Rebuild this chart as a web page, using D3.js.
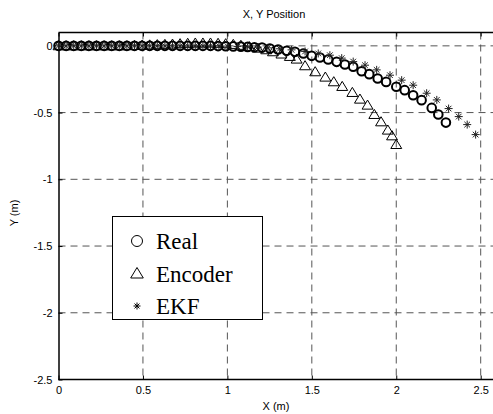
<!DOCTYPE html>
<html>
<head>
<meta charset="utf-8">
<script src="https://cdn.jsdelivr.net/npm/d3@7"></script>
<style>
  body { margin: 0; background: #fff; }
  svg { display: block; }
</style>
</head>
<body>
<svg id="chart" width="493" height="414"></svg>
<script>
// Real trajectory (circles)
const realX = [0, 0.045, 0.09, 0.135, 0.18, 0.225, 0.27, 0.315, 0.36, 0.405, 0.45, 0.495, 0.54, 0.585, 0.63,
    0.675, 0.72, 0.765, 0.81, 0.855, 0.9, 0.945, 0.99, 1.035, 1.08, 1.12, 1.16, 1.205, 1.252, 1.30, 1.351,
    1.40, 1.45, 1.499, 1.548, 1.597, 1.647, 1.696, 1.745, 1.795, 1.84, 1.89, 1.94, 2.0, 2.05, 2.10, 2.15,
    2.21, 2.249, 2.294]
const realY = [0, 0, 0, 0, 0, 0, 0, 0, 0, 0, 0, 0, 0, 0, 0,
    0, 0, 0, 0, 0, 0, -0.002, -0.003, -0.004, -0.006, -0.008, -0.01, -0.013, -0.02, -0.027, -0.037,
    -0.045, -0.057, -0.075, -0.087, -0.102, -0.12, -0.14, -0.157, -0.19, -0.212, -0.245, -0.27, -0.307, -0.332,
    -0.37, -0.407, -0.465, -0.514, -0.575]

// Encoder (triangles)
const encX = [0, 0.045, 0.09, 0.135, 0.18, 0.225, 0.27, 0.315, 0.36, 0.405, 0.45, 0.495, 0.54, 0.585, 0.63,
    0.675, 0.72, 0.765, 0.81, 0.855, 0.9, 0.945, 0.99, 1.035, 1.08, 1.13, 1.18, 1.23, 1.27, 1.32, 1.37,
    1.41, 1.46, 1.52, 1.58, 1.63, 1.68, 1.74, 1.785, 1.83, 1.87, 1.91, 1.95, 1.975, 2.0]
const encY = [0, 0, 0, 0, 0, 0, 0, 0, 0, 0, 0.002, 0.004, 0.006, 0.008, 0.01,
    0.012, 0.015, 0.018, 0.02, 0.02, 0.02, 0.018, 0.015, 0.01, 0.003, -0.007, -0.018, -0.03, -0.045, -0.062, -0.08,
    -0.1, -0.15, -0.195, -0.235, -0.27, -0.305, -0.35, -0.4, -0.445, -0.515, -0.57, -0.632, -0.675, -0.74]

// EKF estimate (stars)
const ekfX = [0, 0.045, 0.09, 0.135, 0.18, 0.225, 0.27, 0.315, 0.36, 0.405, 0.45, 0.495, 0.54, 0.585, 0.63,
    0.675, 0.72, 0.765, 0.81, 0.855, 0.9, 0.95, 1.0, 1.06, 1.12, 1.18, 1.24, 1.31, 1.38, 1.46, 1.538,
    1.607, 1.677, 1.745, 1.815, 1.884, 1.963, 2.032, 2.10, 2.18, 2.24, 2.31, 2.37, 2.42, 2.47]
const ekfY = [0, 0, 0, 0, 0, 0, 0, 0, 0, 0, 0, 0, 0, 0, 0,
    0, 0, 0, 0, 0, 0, 0, -0.002, -0.004, -0.007, -0.01, -0.015, -0.022, -0.03, -0.042, -0.057,
    -0.07, -0.092, -0.118, -0.145, -0.18, -0.22, -0.257, -0.295, -0.355, -0.405, -0.47, -0.53, -0.59, -0.665]

const xTicks = [0, 0.5, 1, 1.5, 2, 2.5]
const yTicks = [0, -0.5, -1, -1.5, -2, -2.5]
const legendLabels = ["Real", "Encoder", "EKF"]

const sans = "'Liberation Sans', Arial, sans-serif"
const serif = "'Liberation Serif', 'Times New Roman', serif"
const fmt = d => String(d)

const svg = d3.select("#chart")

const plotLeft = 58.5, plotTop = 32.5, plotBottom = 379.5
const x = d3.scaleLinear().domain([0, 2.5]).range([plotLeft, 480.7])
const y = d3.scaleLinear().domain([-2.5, 0.1]).range([plotBottom, plotTop])
const plotRight = x(2.6)

// grid
const grid = svg.append("g")
    .attr("stroke", "#555")
    .attr("stroke-width", 1)
    .attr("stroke-dasharray", "7,5")
grid.selectAll(".gx").data(xTicks.slice(1)).join("line")
    .attr("class", "gx")
    .attr("x1", d => x(d)).attr("x2", d => x(d))
    .attr("y1", plotTop).attr("y2", plotBottom)
grid.selectAll(".gy").data(yTicks.slice(0, -1)).join("line")
    .attr("class", "gy")
    .attr("x1", plotLeft).attr("x2", plotRight)
    .attr("y1", d => y(d)).attr("y2", d => y(d))

// axes, ticks inside
const xAxis = d3.axisBottom(x).tickValues(xTicks).tickSizeInner(-4).tickSizeOuter(0)
    .tickPadding(7).tickFormat(fmt)
const yAxis = d3.axisLeft(y).tickValues(yTicks).tickSizeInner(-4).tickSizeOuter(0)
    .tickPadding(6).tickFormat(fmt)

const gx = svg.append("g").attr("transform", `translate(0,${plotBottom})`).call(xAxis)
const gy = svg.append("g").attr("transform", `translate(${plotLeft},0)`).call(yAxis)
const gt = svg.append("g").attr("transform", `translate(0,${plotTop})`)
    .call(d3.axisTop(x).tickValues(xTicks).tickSizeInner(-4).tickSizeOuter(0).tickFormat(""))
gt.select(".domain").attr("d", `M${plotLeft},0H${plotRight}`)
gx.select(".domain").attr("d", `M${plotLeft},0H${plotRight}`)

for (const g of [gx, gy, gt]) {
    g.select(".domain").attr("stroke", "#000").attr("stroke-width", 1.5)
    g.selectAll(".tick line").attr("stroke", "#000")
    g.selectAll(".tick text").attr("font-size", 11).attr("fill", "#000")
        .style("font-family", sans)
}

// titles
const label = (t) => svg.append("text").attr("text-anchor", "middle")
    .attr("font-size", 11).style("font-family", sans).text(t)
label("X, Y Position").attr("x", 274).attr("y", 18)
label("X (m)").attr("x", 276).attr("y", 410)
label("Y (m)").attr("transform", "translate(18,213) rotate(-90)")

// markers
const starPath = (s) => `M${-s},0H${s}M0,${-s}V${s}M${-s * 0.7},${-s * 0.7}L${s * 0.7},${s * 0.7}M${-s * 0.7},${s * 0.7}L${s * 0.7},${-s * 0.7}`
const triPath = (s) => `M0,${-s}L${s * 1.05},${s * 0.75}L${-s * 1.05},${s * 0.75}Z`

const plot = svg.append("g")

plot.selectAll(".enc").data(d3.range(encX.length)).join("path")
    .attr("class", "enc")
    .attr("transform", i => `translate(${x(encX[i])},${y(encY[i])})`)
    .attr("d", triPath(5.2))
    .attr("fill", "none").attr("stroke", "#000").attr("stroke-width", 1)

plot.selectAll(".real").data(d3.range(realX.length)).join("circle")
    .attr("class", "real")
    .attr("cx", i => x(realX[i])).attr("cy", i => y(realY[i]))
    .attr("r", 4.3)
    .attr("fill", "none").attr("stroke", "#000").attr("stroke-width", 2)

plot.selectAll(".ekf").data(d3.range(ekfX.length)).join("path")
    .attr("class", "ekf")
    .attr("transform", i => `translate(${x(ekfX[i])},${y(ekfY[i])})`)
    .attr("d", starPath(4))
    .attr("fill", "none").attr("stroke", "#222").attr("stroke-width", 1)

// legend
const lg = svg.append("g")
lg.append("rect").attr("x", 112.5).attr("y", 216.5).attr("width", 150).attr("height", 103)
    .attr("fill", "#fff").attr("stroke", "#000").attr("stroke-width", 1)

const rowY = d3.scalePoint().domain(legendLabels).range([241, 306])
lg.selectAll("text").data(legendLabels).join("text")
    .attr("x", 156).attr("y", d => rowY(d) + 8)
    .style("font-family", serif)
    .attr("font-size", 23).text(d => d)

lg.append("circle").attr("cx", 137).attr("cy", rowY("Real")).attr("r", 5.5)
    .attr("fill", "none").attr("stroke", "#000").attr("stroke-width", 1)
lg.append("path").attr("transform", `translate(137,${rowY("Encoder")})`).attr("d", triPath(6))
    .attr("fill", "none").attr("stroke", "#000").attr("stroke-width", 1)
lg.append("path").attr("transform", `translate(137,${rowY("EKF")})`).attr("d", starPath(3.5))
    .attr("fill", "none").attr("stroke", "#000").attr("stroke-width", 1)
</script>
</body>
</html>
